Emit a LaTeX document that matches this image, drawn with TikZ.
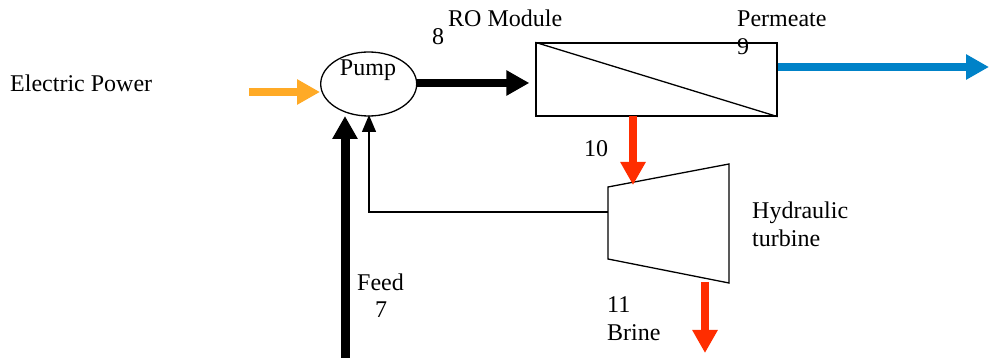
\documentclass[tikz,border=0pt]{standalone}
\usepackage{fontspec}
\setmainfont{Liberation Serif}
\usetikzlibrary{arrows.meta,shapes.geometric,calc}
\definecolor{powerorange}{RGB}{255,170,38}
\definecolor{permblue}{RGB}{0,130,200}
\definecolor{brinered}{RGB}{255,45,0}
\begin{document}
\begin{tikzpicture}[x=1pt,y=-1pt,
  lbl/.style={anchor=base west,inner sep=0pt,font=\fontsize{24}{28}\selectfont},
  thin/.style={line width=1.3pt,black},
  flow/.style={line width=8pt,-{Triangle[length=23pt,width=24pt]}},
  thinflow/.style={line width=1.3pt,-{Triangle[length=17pt,width=14pt]}}]
\useasboundingbox (0,0) rectangle (989,358);
% text
\node[lbl] (ep) at (10,92) {Electric Power};
\node[lbl] (n8) at (432,45) {8};
\node[lbl] (rom) at (448,27) {RO Module};
\node[lbl] (perm) at (737,27) {Permeate};
\node[lbl] (n9) at (737,55) {9};
\node[lbl] (n10) at (584,157) {10};
\node[lbl] (hyd) at (752,219) {Hydraulic};
\node[lbl] (tur) at (752,247) {turbine};
\node[lbl] (feed) at (357,291) {Feed};
\node[lbl] (n7) at (375,318) {7};
\node[lbl] (n11) at (607,313) {11};
\node[lbl] (brine) at (607,341) {Brine};
% pump
\node[draw,thin,ellipse,minimum width=96pt,minimum height=64pt,inner sep=0pt] (pump) at (368.7,84) {};
\node[lbl,anchor=base] (pumptxt) at (368,76) {Pump};
% RO module
\node[draw,thin,rectangle,minimum width=241pt,minimum height=73pt,inner sep=0pt] (ro) at (656.5,79.5) {};
\draw[thin] (ro.north west) -- (ro.south east);
% turbine
\coordinate (t1) at (608,187);
\coordinate (t2) at (729,164);
\coordinate (t3) at (729,283);
\coordinate (t4) at (608,259);
\draw[thin,line join=miter] (t1) -- (t2) -- (t3) -- (t4) -- cycle;
\coordinate (tleft) at (608,212);
% flows
\coordinate (pstart) at (249,92);
\draw[flow,powerorange] (pstart) -- (320,92);
\draw[flow,black] (pump.east |- 0,83) -- ($(ro.west |- 0,83)+(-6,0)$);
\coordinate (pend) at (989,67);
\draw[flow,permblue] (ro.east |- pend) -- (pend);
\coordinate (rbot) at (633,116);
\draw[flow,brinered] (rbot) -- (633,185);
\coordinate (bstart) at (705,282);
\draw[flow,brinered] (bstart) -- (705,353);
\coordinate (feedstart) at (345,358);
\draw[flow,black,line width=9pt] (feedstart) -- (345,116);
\draw[thinflow,black] (tleft) -| (369,115);
\end{tikzpicture}
\end{document}
